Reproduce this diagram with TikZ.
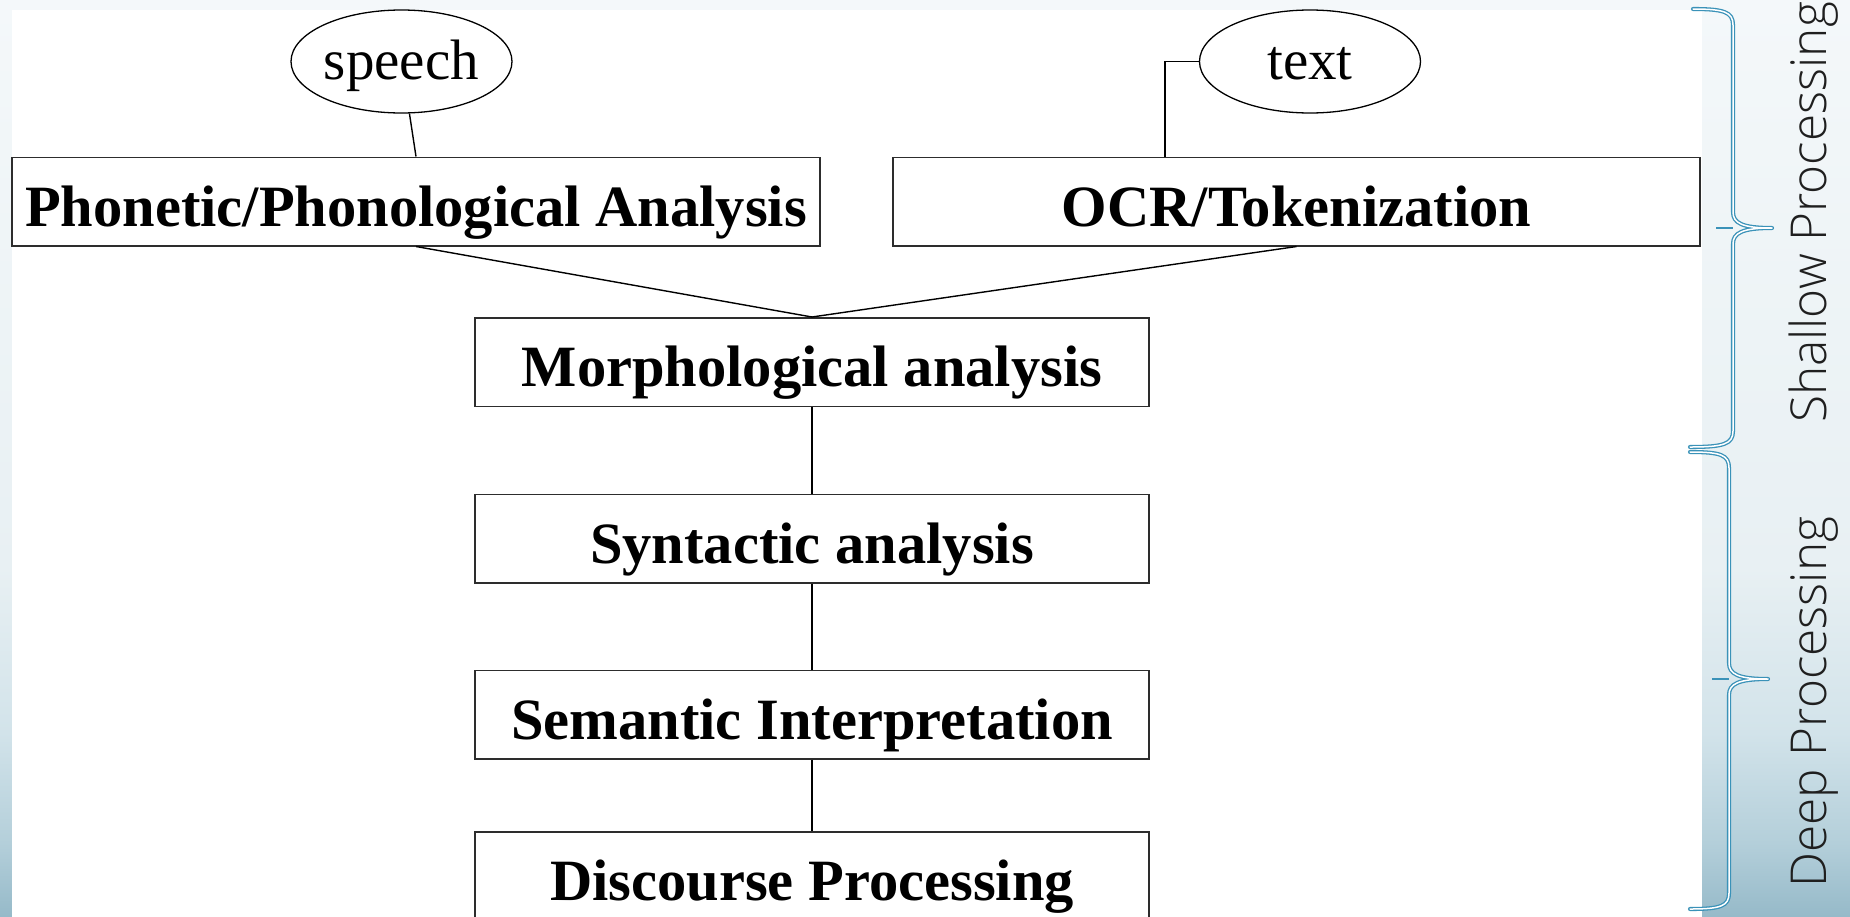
\documentclass[tikz,border=0pt]{standalone}
\usepackage{fontspec}
\setmainfont{Liberation Serif}
\IfFontExistsTF{Open Sans Light}{\newfontfamily\sidefont{Open Sans Light}}{\newfontfamily\sidefont{Open Sans}}
\usetikzlibrary{shapes.geometric}
\definecolor{braceblue}{RGB}{58,146,184}
\definecolor{boxgray}{RGB}{45,45,45}
\definecolor{bgtop}{RGB}{244,248,250}
\definecolor{bgb4}{RGB}{232,240,243}
\definecolor{bgb3}{RGB}{210,227,234}
\definecolor{bgb2}{RGB}{180,207,218}
\definecolor{bgbot}{RGB}{150,186,201}
\pgfdeclareverticalshading{slidebg}{100bp}{color(0bp)=(bgbot); color(25bp)=(bgbot); color(29bp)=(bgb2); color(35bp)=(bgb3); color(44bp)=(bgb4); color(75bp)=(bgtop); color(100bp)=(bgtop)}
\tikzset{
  box/.style={draw=boxgray, line width=1.5pt, rectangle, inner sep=0pt,
    minimum height=88.5pt, text height=49pt, text depth=0pt,
    font=\bfseries\fontsize{58.5}{60}\selectfont},
  src/.style={draw=black, line width=1.3pt, ellipse, inner sep=0pt,
    minimum width=221pt, minimum height=103pt, text height=35pt, text depth=0pt,
    font=\fontsize{57}{60}\selectfont},
  conn/.style={draw=black, line width=1.4pt},
  bracestyle/.style={draw=braceblue, line width=1.3pt, double=white,
    double distance=1.5pt, line join=round, line cap=round},
  stub/.style={draw=braceblue, line width=2pt},
  side/.style={rotate=90, anchor=base west, inner sep=0pt,
    font=\sidefont\fontsize{49.5}{50}\selectfont, text=black!88}
}
\begin{document}
\begin{tikzpicture}[x=1pt,y=-1pt]
\useasboundingbox (0,0) rectangle (1850,916);
\shade[shading=slidebg] (0,0) rectangle (1850,916);
\fill[white] (12,10) rectangle (1702,930);

% nodes
\node[src] (speech) at (401.5,61.5) {speech};
\node[src] (text) at (1310,61.5) {text};
\node[box, minimum width=808pt] (phon) at (416,201.5) {Phonetic/Phonological Analysis};
\node[box, minimum width=807pt] (ocr) at (1296.5,201.5) {OCR/Tokenization};
\node[box, minimum width=674pt] (morph) at (812,362) {Morphological analysis};
\node[box, minimum width=674pt] (syn) at (812,538.5) {Syntactic analysis};
\node[box, minimum width=674pt] (sem) at (812,714.5) {Semantic Interpretation};
\node[box, minimum width=674pt] (disc) at (812,876) {Discourse Processing};
\coordinate (ocrin) at (1165,157);

% connectors
\draw[conn] (speech) -- (phon.north);
\draw[conn] (text.west) -| (ocrin);
\draw[conn] (phon.south) -- (morph.north);
\draw[conn] (ocr.south) -- (morph.north);
\draw[conn] (morph.south) -- (syn.north);
\draw[conn] (syn.south) -- (sem.north);
\draw[conn] (sem.south) -- (disc.north);

% braces
\draw[stub] (1716,228) -- (1733,228);
\draw[bracestyle] (1693,9) .. controls (1724,9) and (1733,12) .. (1733,25)
  -- (1733,212) .. controls (1733,223) and (1742,228) .. (1772,228)
  .. controls (1742,228) and (1733,233) .. (1733,244)
  -- (1733,431) .. controls (1733,444) and (1724,447) .. (1690,447);
\draw[stub] (1712,679) -- (1729,679);
\draw[bracestyle] (1690,452) .. controls (1721,452) and (1729,455) .. (1729,468)
  -- (1729,663) .. controls (1729,674) and (1738,679) .. (1768,679)
  .. controls (1738,679) and (1729,684) .. (1729,695)
  -- (1729,893) .. controls (1729,906) and (1721,909) .. (1690,909);

% side labels
\node[side] (shallow) at (1826,423) {Shallow Processing};
\node[side] (deep) at (1826,888) {Deep Processing};
\end{tikzpicture}
\end{document}
